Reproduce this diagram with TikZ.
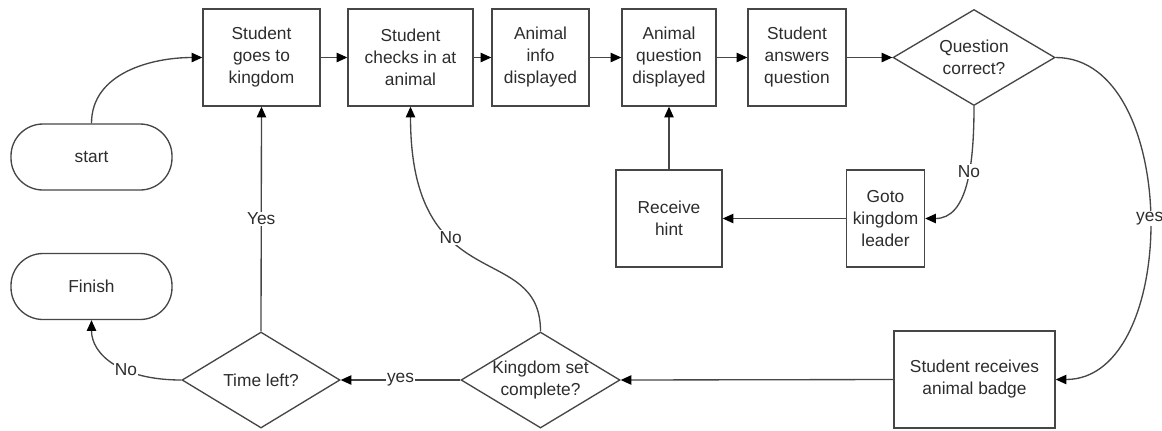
\documentclass[tikz,border=0pt]{standalone}
\usepackage{fontspec}
\setmainfont{Liberation Sans}
\usetikzlibrary{shapes.geometric,arrows.meta}
\definecolor{lc}{RGB}{70,70,70}
\definecolor{tc}{RGB}{45,45,45}
\newcommand\fsz{\fontsize{13}{16.5}\selectfont}
\tikzset{
  box/.style={draw=lc, line width=1pt, fill=white, align=center, inner sep=0pt,
              minimum height=72.75pt, font=\fsz, text=tc},
  term/.style={box, rounded corners=24pt, minimum width=120.75pt, minimum height=49.5pt},
  dec/.style={draw=lc, line width=1pt, fill=white, shape=diamond, inner sep=0pt,
              minimum height=72pt},
  arr/.style={draw=lc, line width=1pt, -{Triangle[length=8pt,width=7pt,color=black]}},
  lab/.style={fill=white, inner sep=1pt, font=\fsz, text=tc},
  dtext/.style={align=center, font=\fsz, text=tc}
}
\begin{document}
\begin{tikzpicture}[x=0.75pt, y=-0.75pt]
\useasboundingbox (0,0) rectangle (1162,430);
% top row
\node[term] (start) at (91.5,157) {start};
\node[term] (finish) at (91.5,286.5) {Finish};
\node[box, minimum width=87.75pt] (b1) at (261.5,57.5) {Student\\goes to\\kingdom};
\node[box, minimum width=93.75pt] (b2) at (410.5,57.5) {Student\\checks in at\\animal};
\node[box, minimum width=72.75pt] (b3) at (540.5,57.5) {Animal\\info\\displayed};
\node[box, minimum width=70.5pt] (b4) at (669,57.5) {Animal\\question\\displayed};
\node[box, minimum width=73.5pt] (b5) at (797,57.5) {Student\\answers\\question};
\node[dec, minimum width=121.5pt, label={[dtext]center:Question\\correct?}] (d1) at (974,57.5) {};
% middle row
\node[box, minimum width=79.5pt] (hint) at (669,218.5) {Receive\\hint};
\node[box, minimum width=58.5pt] (goto) at (885.5,218.5) {Goto\\kingdom\\leader};
% bottom row
\node[box, minimum width=120.75pt] (badge) at (974.5,379.5) {Student receives\\animal badge};
\node[dec, minimum width=119.25pt, label={[dtext]center:Kingdom set\\complete?}] (k) at (540.5,380) {};
\node[dec, minimum width=118.5pt, label={[dtext]center:Time left?}] (tl) at (261,380) {};
% connectors
\draw[arr] (start.north) to[out=90,in=180] (b1.west);
\draw[arr] (b1) -- (b2);
\draw[arr] (b2) -- (b3);
\draw[arr] (b3) -- (b4);
\draw[arr] (b4) -- (b5);
\draw[arr] (b5) -- (d1.west);
\draw[arr] (d1.south) to[out=270,in=0,out distance=45pt,in distance=31.5pt]
   node[lab,pos=0.4]{No} (goto.east);
\draw[arr] (goto.west) -- (hint.east);
\draw[arr] (hint.north) -- (b4.south);
\draw[arr] (d1.east) to[out=0,in=0,out distance=94pt,in distance=94pt]
   node[lab,pos=0.5]{yes} (badge.east);
\draw[arr] (badge.west) -- (k.east);
\draw[arr] (k.west) -- node[lab]{yes} (tl.east);
\draw[arr] (k.north) to[out=90,in=270,out distance=69pt,in distance=145.5pt]
   node[lab,pos=0.63]{No} (b2.south);
\draw[arr] (tl.north) -- node[lab]{Yes} (b1.south);
\draw[arr] (tl.west) to[out=180,in=270,out distance=45pt,in distance=26pt]
   node[lab,pos=0.38]{No} (finish.south);
\end{tikzpicture}
\end{document}
